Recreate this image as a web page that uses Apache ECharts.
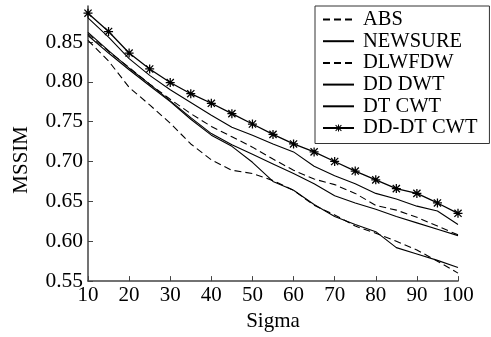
<!DOCTYPE html>
<html>
<head>
<meta charset="utf-8">
<script src="https://cdn.jsdelivr.net/npm/echarts@6/dist/echarts.min.js"></script>
<style>
html,body{margin:0;padding:0;background:#fff;}
#chart{width:491px;height:337px;}
</style>
</head>
<body>
<div id="chart"></div>
<script>
var sigma = [10,15,20,25,30,35,40,45,50,55,60,65,70,75,80,85,90,95,100];
var ABS      = [0.852,0.826,0.793,0.771,0.748,0.722,0.702,0.689,0.685,0.676,0.664,0.645,0.633,0.619,0.610,0.600,0.589,0.575,0.560];
var NEWSURE  = [0.858,0.836,0.815,0.795,0.775,0.753,0.733,0.719,0.699,0.675,0.664,0.646,0.631,0.621,0.612,0.592,0.584,0.576,0.567];
var DLWFDW   = [0.860,0.838,0.818,0.797,0.778,0.760,0.744,0.731,0.718,0.703,0.689,0.678,0.671,0.660,0.645,0.639,0.630,0.619,0.608];
var DDDWT    = [0.862,0.839,0.817,0.797,0.776,0.755,0.735,0.721,0.709,0.697,0.685,0.672,0.657,0.648,0.640,0.631,0.623,0.615,0.607];
var DTCWT    = [0.880,0.856,0.829,0.808,0.790,0.774,0.758,0.743,0.733,0.722,0.712,0.694,0.682,0.672,0.660,0.653,0.644,0.638,0.621];
var DDDTCWT  = [0.886,0.863,0.836,0.816,0.799,0.785,0.773,0.760,0.747,0.734,0.722,0.712,0.700,0.688,0.677,0.666,0.660,0.648,0.635];
var seriesNames = ['ABS','NEWSURE','DLWFDW','DD DWT','DT CWT','DD-DT CWT'];
var xTicks = [10,20,30,40,50,60,70,80,90,100];
var yTicks = [0.55,0.60,0.65,0.70,0.75,0.80,0.85];

function pairs(arr){ return sigma.map(function(s,i){ return [s, arr[i]]; }); }
var FONT = '"Liberation Serif", "Times New Roman", serif';
var star = 'path://M4.3,0L5.7,0L5.7,10L4.3,10Z M0,4.3L10,4.3L10,5.7L0,5.7Z M1.5,0.5L9.5,8.5L8.5,9.5L0.5,1.5Z M8.5,0.5L9.5,1.5L1.5,9.5L0.5,8.5Z';

function mk(name, data, dashed, marker){
  return {
    name: name, type: 'line', data: pairs(data),
    symbol: marker ? star : 'none', symbolSize: 9, showSymbol: !!marker,
    itemStyle: {color: '#000'},
    lineStyle: {color: '#000', width: marker ? 1.3 : 1.1, type: dashed ? [7,4] : 'solid'},
    animation: false
  };
}

var chart = echarts.init(document.getElementById('chart'), null, {renderer: 'canvas'});
chart.setOption({
  backgroundColor: '#fff',
  animation: false,
  grid: {left: 88, right: 33, top: 6, bottom: 54},
  legend: {
    orient: 'vertical', left: 315, top: 6,
    padding: [3, 12, 5, 7],
    borderColor: '#333', borderWidth: 1, backgroundColor: '#fff',
    itemWidth: 31, itemHeight: 9, itemGap: 0.7,
    textStyle: {fontFamily: FONT, fontSize: 20.5, color: '#000', lineHeight: 19, padding: [0,0,0,4]},
    data: seriesNames.map(function(n, i){
      return i === seriesNames.length - 1 ? {name: n} : {name: n, itemStyle: {opacity: 0}};
    })
  },
  graphic: [{
    type: 'text', left: 11, top: 126, rotation: Math.PI / 2,
    style: {text: 'MSSIM', fontFamily: FONT, fontSize: 21, fill: '#000'}
  }],
  xAxis: {
    type: 'value', min: 10, max: 100, interval: 10,
    name: 'Sigma', nameLocation: 'middle', nameGap: 28,
    nameTextStyle: {fontFamily: FONT, fontSize: 21, color: '#000'},
    axisLine: {lineStyle: {color: '#444', width: 1.5}},
    axisTick: {inside: true, length: 5, lineStyle: {color: '#444'}},
    axisLabel: {fontFamily: FONT, fontSize: 21, color: '#000', margin: 4,
      formatter: function(v){ return xTicks.indexOf(v) >= 0 ? String(v) : ''; }},
    splitLine: {show: false}
  },
  yAxis: {
    type: 'value', min: 0.55, max: 0.895, interval: 0.05,
    axisLine: {show: true, lineStyle: {color: '#444', width: 1.5}},
    axisTick: {show: true, inside: true, length: 5, lineStyle: {color: '#444'}},
    axisLabel: {fontFamily: FONT, fontSize: 21.5, color: '#000', margin: 5, showMaxLabel: false,
      formatter: function(v){
        for (var i=0;i<yTicks.length;i++){ if (Math.abs(yTicks[i]-v)<1e-6) return yTicks[i].toFixed(2); }
        return '';
      }},
    splitLine: {show: false}
  },
  series: [
    mk('ABS', ABS, true, false),
    mk('NEWSURE', NEWSURE, false, false),
    mk('DLWFDW', DLWFDW, true, false),
    mk('DD DWT', DDDWT, false, false),
    mk('DT CWT', DTCWT, false, false),
    mk('DD-DT CWT', DDDTCWT, false, true)
  ]
});
</script>
</body>
</html>
